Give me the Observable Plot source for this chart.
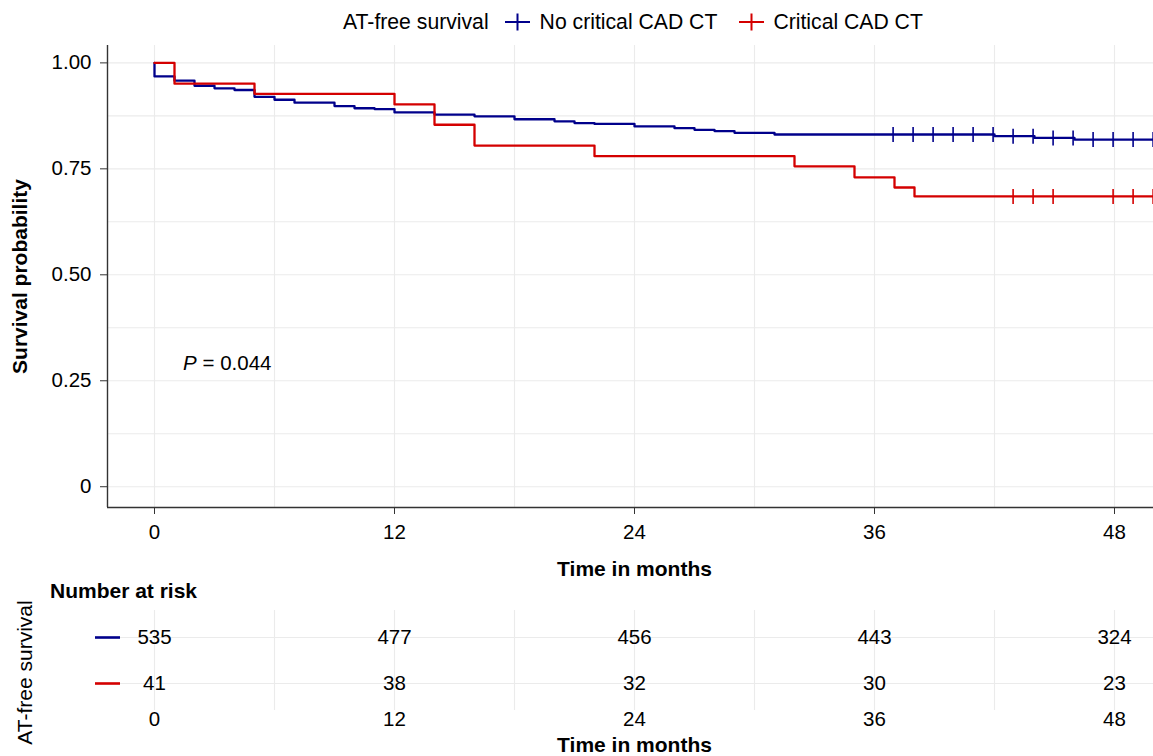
<!DOCTYPE html>
<html><head><meta charset="utf-8">
<script src="https://cdn.jsdelivr.net/npm/d3@7"></script>
<script src="https://cdn.jsdelivr.net/npm/@observablehq/plot@0.6"></script>
<style>
body{margin:0;background:#fff;font-family:"Liberation Sans",Arial,sans-serif;}
#wrap{position:relative;width:1153px;height:756px;overflow:hidden;background:#fff;}
.abs{position:absolute;white-space:nowrap;color:#000;}
#legend{position:absolute;left:343px;top:8px;height:28px;display:flex;align-items:center;font-size:21.2px;color:#000;}
#legend svg{display:block;}
#main{position:absolute;left:0;top:0;}
#table{position:absolute;left:0;top:600px;}
</style></head><body><div id="wrap">
<div id="main"></div>
<div id="table"></div>
<div id="legend"></div>
<div class="abs" id="nar" style="left:50px;top:579px;font-size:21px;font-weight:bold;">Number at risk</div>
</div>
<script>
// ---- data ----
const groups = ["No critical CAD CT", "Critical CAD CT"];
const colors = ["#00008B", "#D40000"];
const legendTitle = "AT-free survival";

const blueTime = [0, 0, 1, 2, 3, 4, 5, 6, 7, 9, 10, 11, 12, 14, 16, 18, 20, 21, 22, 24, 26, 27, 28, 29, 31, 42, 44, 46, 50];
const blueSurv = [1, 0.968, 0.958, 0.946, 0.940, 0.936, 0.920, 0.913, 0.906, 0.898, 0.893, 0.891, 0.883, 0.878, 0.874, 0.867, 0.862, 0.858, 0.856, 0.850, 0.846, 0.842, 0.839, 0.835, 0.831, 0.827, 0.823, 0.819, 0.819];
const redTime = [0, 1, 5, 12, 14, 16, 22, 32, 35, 37, 38, 50];
const redSurv = [1, 0.951, 0.927, 0.902, 0.854, 0.805, 0.780, 0.756, 0.730, 0.706, 0.685, 0.685];

const blueCensor = [36.93, 37.93, 38.93, 39.93, 40.93, 41.93, 42.93, 43.93, 44.93, 45.93, 46.93, 47.93, 48.93, 49.93];
const redCensor = [42.93, 43.93, 44.93, 47.93, 48.93, 49.93];

const riskTimes = [0, 12, 24, 36, 48];
const blueRisk = [535, 477, 456, 443, 324];
const redRisk = [41, 38, 32, 30, 23];

const xTicks = [0, 12, 24, 36, 48];
const xGrid = [0, 6, 12, 18, 24, 30, 36, 42, 48];
const yTicks = [0, 0.25, 0.5, 0.75, 1];
const yTickLabels = ["0", "0.25", "0.50", "0.75", "1.00"];
const yGrid = [0, 0.125, 0.25, 0.375, 0.5, 0.625, 0.75, 0.875, 1];
const xDomain = [-2.35, 49.95];
const yDomain = [-0.049, 1.041];
const pText = "P = 0.044";
const pPos = {x: 1.43, y: 0.291};
const xTitle = "Time in months";
const yTitle = "Survival probability";
const tableTitle = "Number at risk";

// ---- build tables ----
const curves = [
  ...blueTime.map((t, i) => ({time: t, surv: blueSurv[i], group: groups[0]})),
  ...redTime.map((t, i) => ({time: t, surv: redSurv[i], group: groups[1]}))
];
function survAt(times, surv, t) {
  let s = surv[0];
  for (let i = 0; i < times.length; i++) if (times[i] <= t) s = surv[i];
  return s;
}
const censors = [
  ...blueCensor.map(t => ({time: t, surv: survAt(blueTime, blueSurv, t), group: groups[0]})),
  ...redCensor.map(t => ({time: t, surv: survAt(redTime, redSurv, t), group: groups[1]}))
];
const risk = [
  ...riskTimes.map((t, i) => ({time: t, n: blueRisk[i], group: groups[0]})),
  ...riskTimes.map((t, i) => ({time: t, n: redRisk[i], group: groups[1]}))
];

const vTick = {draw(ctx, size) { const r = Math.sqrt(size / Math.PI); ctx.moveTo(0, -r); ctx.lineTo(0, r); }};
const hLine = {draw(ctx, size) { const r = Math.sqrt(size / Math.PI); ctx.moveTo(-r, 0); ctx.lineTo(r, 0); }};

const font = '"Liberation Sans", Arial, sans-serif';
const grid = "#EBEBEB";
const axisCol = "#333333";

const main = Plot.plot({
  width: 1153, height: 600,
  marginTop: 45, marginLeft: 107, marginRight: 0, marginBottom: 93,
  style: {fontFamily: font, fontSize: "20.5px", color: "#000", background: "transparent", overflow: "visible"},
  x: {domain: xDomain},
  y: {domain: yDomain},
  color: {domain: groups, range: colors},
  marks: [
    Plot.ruleY(yGrid, {stroke: grid, strokeWidth: 1.1}),
    Plot.ruleX(xGrid, {stroke: grid, strokeWidth: 1.1}),
    Plot.ruleX([xDomain[0]], {stroke: axisCol, strokeWidth: 1.4}),
    Plot.ruleY([yDomain[0]], {stroke: axisCol, strokeWidth: 1.4}),
    Plot.axisY(yTicks, {tickSize: 7, tickPadding: 9, stroke: axisCol, fill: "#000", label: null, fontSize: 20.5,
      tickFormat: d => yTickLabels[yTicks.indexOf(d)]}),
    Plot.axisX(xTicks, {tickSize: 7, tickPadding: 10, stroke: axisCol, fill: "#000", label: null, fontSize: 20.5}),
    Plot.line(curves, {x: "time", y: "surv", z: "group", stroke: "group", curve: "step-after", strokeWidth: 2.3}),
    Plot.dot(censors, {x: "time", y: "surv", stroke: "group", symbol: vTick, r: 7.5, strokeWidth: 1.6, fill: "none"}),
    Plot.text([pText], {x: () => pPos.x, y: () => pPos.y, text: d => d, textAnchor: "start", fontSize: 20.5, fill: "#000"}),
    Plot.text([xTitle], {frameAnchor: "bottom", dx: 4, dy: 62, text: d => d, textAnchor: "middle", lineAnchor: "middle", fontWeight: "bold", fontSize: 21, fill: "#000"}),
    Plot.text([yTitle], {frameAnchor: "left", dx: -87, rotate: -90, text: d => d, textAnchor: "middle", lineAnchor: "middle", fontWeight: "bold", fontSize: 21, fill: "#000"})
  ]
});
// italic P
main.querySelectorAll("text").forEach(t => {
  if (t.textContent === pText) {
    t.textContent = "";
    const ns = "http://www.w3.org/2000/svg";
    const a = document.createElementNS(ns, "tspan"); a.setAttribute("font-style", "italic"); a.textContent = "P";
    const b = document.createElementNS(ns, "tspan"); b.textContent = pText.slice(1);
    t.appendChild(a); t.appendChild(b);
  }
});
document.getElementById("main").appendChild(main);

const table = Plot.plot({
  width: 1153, height: 156,
  marginTop: 10, marginLeft: 107, marginRight: 0, marginBottom: 46,
  style: {fontFamily: font, fontSize: "20.5px", color: "#000", background: "transparent", overflow: "visible"},
  x: {domain: xDomain},
  y: {type: "point", domain: groups, padding: 0.564, axis: null},
  color: {domain: groups, range: colors},
  marks: [
    Plot.ruleX(xGrid, {stroke: grid, strokeWidth: 1.1}),
    Plot.ruleY(groups, {y: d => d, stroke: grid, strokeWidth: 1.1}),
    Plot.dot(groups, {y: d => d, frameAnchor: "left", symbol: hLine, r: 12.5, stroke: d => d, strokeWidth: 2.6, fill: "none"}),
    Plot.text(risk, {x: "time", y: "group", text: d => String(d.n), fontSize: 20.5, fill: "#000"}),
    Plot.axisX(xTicks, {tickSize: 0, tickPadding: 1, label: null, fontSize: 20.5, fill: "#000"}),
    Plot.text([xTitle], {frameAnchor: "bottom", dx: 4, dy: 35, text: d => d, textAnchor: "middle", lineAnchor: "middle", fontWeight: "bold", fontSize: 21, fill: "#000"}),
    Plot.text([legendTitle], {frameAnchor: "left", dx: -82, dy: 12, rotate: -90, text: d => d, textAnchor: "middle", lineAnchor: "middle", fontSize: 21, fill: "#000"})
  ]
});
document.getElementById("table").appendChild(table);

// legend
const lg = document.getElementById("legend");
function cross(c) {
  return `<svg width="25" height="18"><path d="M0 9H25M12.5 0.5V17.5" stroke="${c}" stroke-width="2" fill="none"/></svg>`;
}
lg.innerHTML = `<span>${legendTitle}</span><span style="width:16px"></span>${cross(colors[0])}<span style="width:10px"></span><span>${groups[0]}</span><span style="width:22px"></span>${cross(colors[1])}<span style="width:9px"></span><span>${groups[1]}</span>`;
</script></body></html>
